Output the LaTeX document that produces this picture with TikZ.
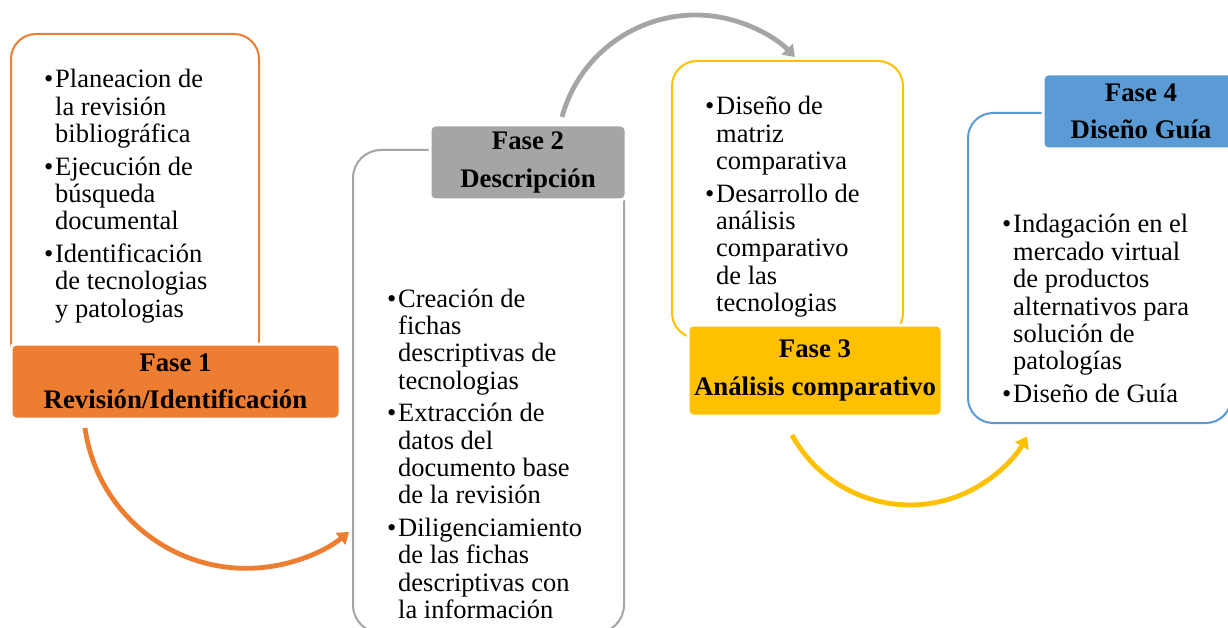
\documentclass[tikz,border=0pt]{standalone}
\usepackage{fontspec}
\setmainfont{Liberation Serif}
\usetikzlibrary{arrows.meta}
\definecolor{corange}{HTML}{ED7D31}
\definecolor{cgray}{HTML}{A5A5A5}
\definecolor{cyellow}{HTML}{FFC000}
\definecolor{cblue}{HTML}{5B9BD5}
\newcommand\bl{\makebox[11pt][l]{\textbullet}}
\begin{document}
\begin{tikzpicture}[x=1pt,y=1pt,
 outline/.style={rounded corners=25pt, line width=2pt, fill=white, inner sep=0pt, anchor=north west},
 header/.style={draw=white, line width=3pt, rounded corners=5pt, inner sep=0pt, align=center,
   font=\fontsize{26.8}{37.5}\selectfont\bfseries, text=black},
 bodytext/.style={inner sep=0pt, anchor=base west, font=\fontsize{26.5}{27.4}\selectfont},
 flow/.style={line width=4.8pt, -{Triangle[length=11pt,width=15pt]}}
]
\clip (0,0) rectangle (1228,-628);
\fill[white] (0,0) rectangle (1228,-628);

% outline boxes
\node[outline, draw=corange, minimum width=248pt, minimum height=332pt] (o1) at (10,-33) {};
\node[outline, draw=cgray, minimum width=271pt, minimum height=483pt, rounded corners=28pt] (o2) at (352,-149) {};
\node[outline, draw=cyellow, minimum width=231pt, minimum height=277pt] (o3) at (671,-60) {};
\node[outline, draw=cblue, minimum width=263pt, minimum height=310pt] (o4) at (967,-112) {};

% headers
\node[header, fill=corange, minimum width=329pt, minimum height=75pt] (h1) at (175.5,-381.5) {Fase 1\\Revisión/Identificación};
\node[header, fill=cgray, minimum width=196pt, minimum height=75pt] (h2) at (528,-162.5) {Fase 2\\Descripción};
\node[header, fill=cyellow, minimum width=254pt, minimum height=91pt] (h3) at (815,-370.5) {Fase 3\\Análisis comparativo};
\node[header, fill=cblue, minimum width=196pt, minimum height=75pt] (h4) at (1141,-111.5) {Fase 4\\Diseño Guía};

% texts
\node[bodytext] (t1) at (44,-88) {\begin{tabular}[t]{@{}l@{}l@{}}
\bl & Planeacion de\\
 & la revisión\\
 & bibliográfica\\[5pt]
\bl & Ejecución de\\
 & búsqueda\\
 & documental\\[5pt]
\bl & Identificación\\
 & de tecnologias\\
 & y patologias
\end{tabular}};

\node[bodytext] (t2) at (387,-307) {\begin{tabular}[t]{@{}l@{}l@{}}
\bl & Creación de\\
 & fichas\\
 & descriptivas de\\
 & tecnologias\\[5pt]
\bl & Extracción de\\
 & datos del\\
 & documento base\\
 & de la revisión\\[5pt]
\bl & Diligenciamiento\\
 & de las fichas\\
 & descriptivas con\\
 & la información
\end{tabular}};

\node[bodytext] (t3) at (705,-115) {\begin{tabular}[t]{@{}l@{}l@{}}
\bl & Diseño de\\
 & matriz\\
 & comparativa\\[5pt]
\bl & Desarrollo de\\
 & análisis\\
 & comparativo\\
 & de las\\
 & tecnologias
\end{tabular}};

\node[bodytext] (t4) at (1002,-233) {\begin{tabular}[t]{@{}l@{}l@{}}
\bl & Indagación en el\\
 & mercado virtual\\
 & de productos\\
 & alternativos para\\
 & solución de\\
 & patologías\\[5pt]
\bl & Diseño de Guía
\end{tabular}};

% arrows
\coordinate (a1s) at (85,-428);
\coordinate (a2s) at (562,-117);
\coordinate (a3s) at (792,-435);
\draw[flow, corange] (a1s) arc[start angle=188, end angle=309, radius=163pt];
\draw[flow, cgray] (a2s) arc[start angle=164.7, end angle=44.2, radius=138.5pt];
\draw[flow, cyellow] (a3s) arc[start angle=208.7, end angle=330.6, radius=134.5pt];
\end{tikzpicture}
\end{document}
